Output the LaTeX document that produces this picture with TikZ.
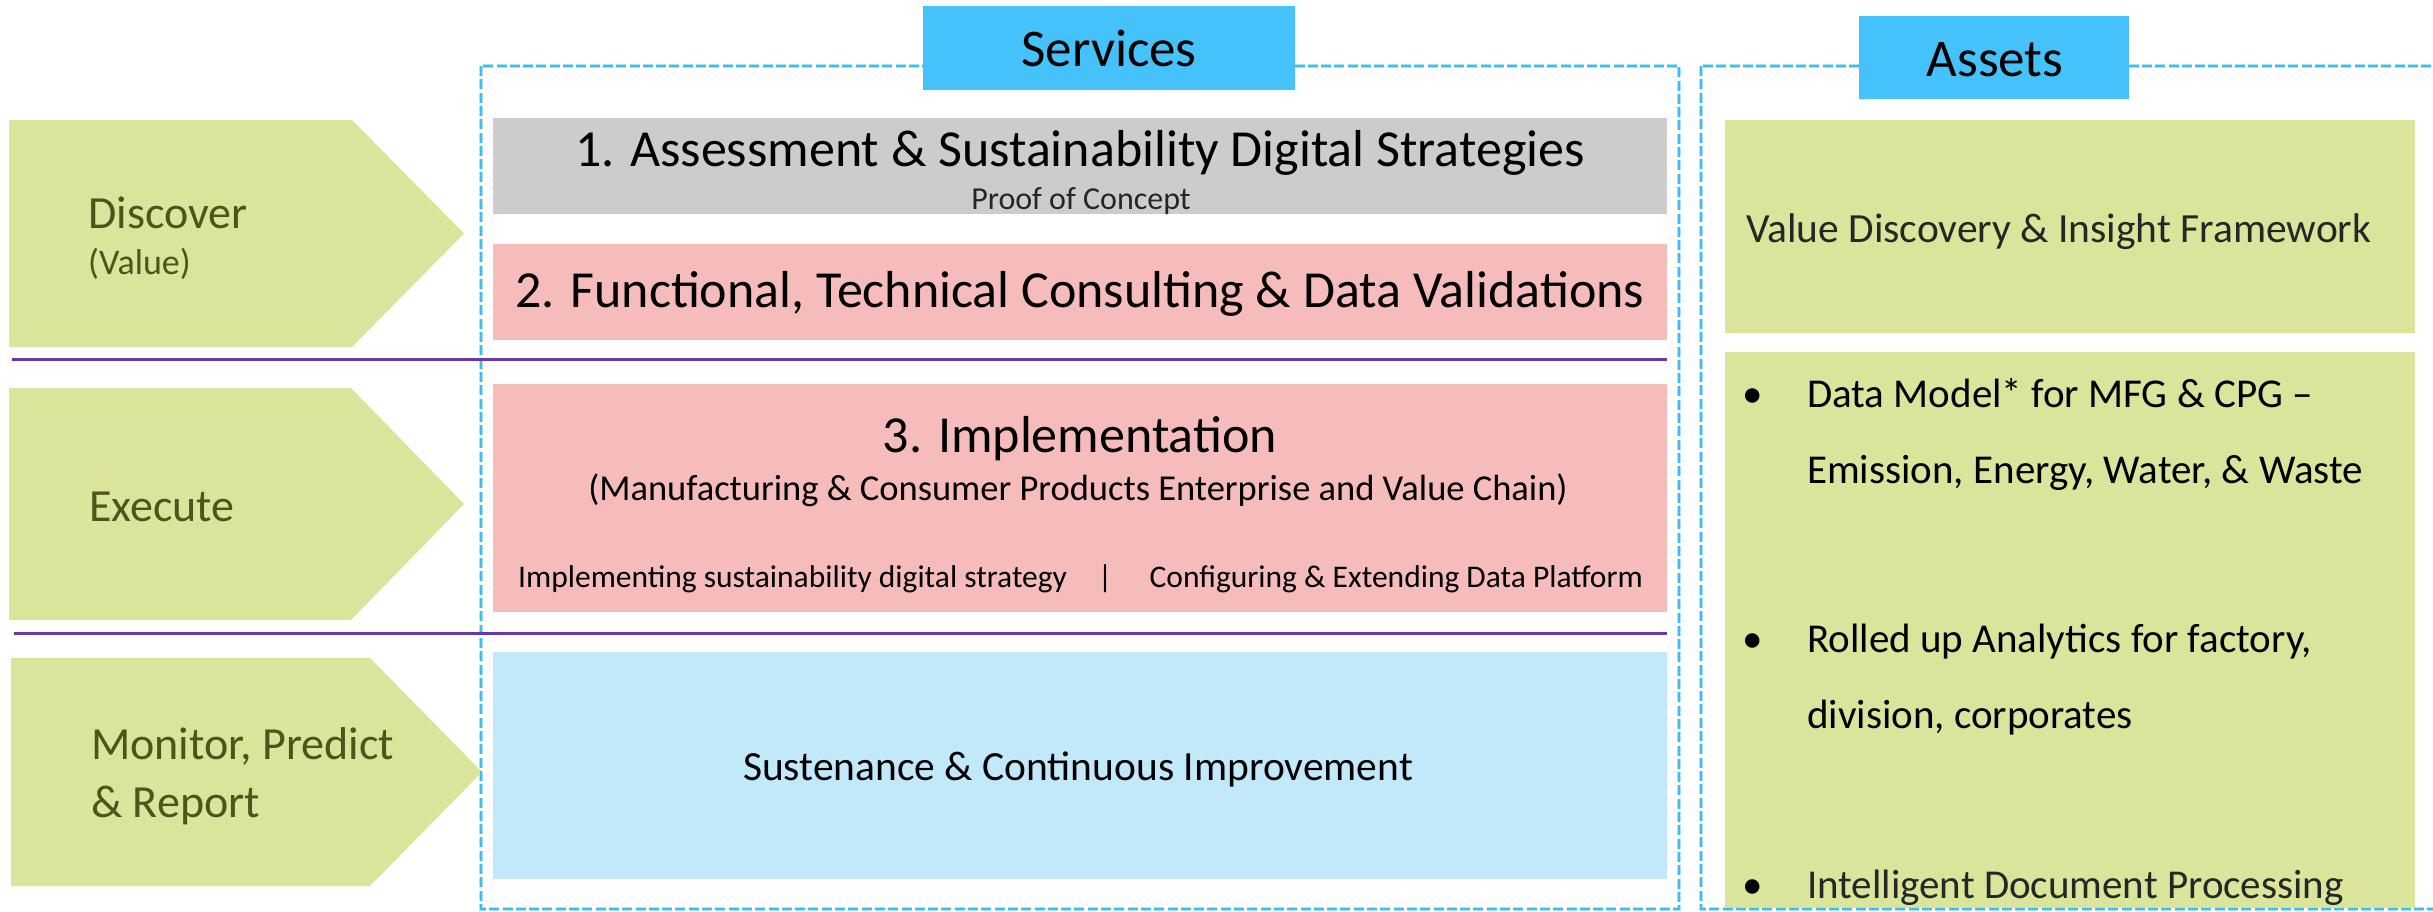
\documentclass[tikz,border=0pt]{standalone}
\usepackage{fontspec}
\setmainfont{Carlito}
\definecolor{hdr}{HTML}{45C2FA}
\definecolor{grayb}{HTML}{CCCCCC}
\definecolor{pinkb}{HTML}{F5BCBB}
\definecolor{blueb}{HTML}{C1E9FA}
\definecolor{greenb}{HTML}{DAE49B}
\definecolor{olive}{HTML}{4A561C}
\definecolor{sepline}{HTML}{6A36AE}
\definecolor{dashout}{HTML}{A9E1FA}
\definecolor{dashin}{HTML}{3DBDF6}
\newcommand\fsz[1]{\fontsize{#1pt}{#1pt}\selectfont}
\begin{document}
\begin{tikzpicture}[x=1pt,y=-1pt,
  txt/.style={inner sep=0pt,anchor=base},
  ltxt/.style={inner sep=0pt,anchor=base west},
  lbl/.style={inner sep=0pt,anchor=base west,text=olive,font=\fsz{46}},
  dashA/.style={draw=dashout,line width=4pt,dash pattern=on 10pt off 3.3pt},
  dashB/.style={draw=dashin,line width=1.6pt,dash pattern=on 10pt off 3.3pt},
  sep/.style={draw=sepline,line width=3pt}]
\useasboundingbox (0,0) rectangle (2433,911);
\clip (0,0) rectangle (2433,911);

% left pentagons
\fill[greenb] (9,120) -- (352,120) -- (464,233.5) -- (352,347) -- (9,347) -- cycle;
\fill[greenb] (9,388) -- (351,388) -- (464,504) -- (351,620) -- (9,620) -- cycle;
\fill[greenb] (11,658) -- (370,658) -- (482,772) -- (370,886) -- (11,886) -- cycle;

% service boxes
\fill[grayb] (493,118) rectangle (1667,214);
\fill[pinkb] (493,244) rectangle (1667,340);
\fill[pinkb] (493,384) rectangle (1667,612);
\fill[blueb] (493,652) rectangle (1667,879);

% asset boxes
\fill[greenb] (1725,120) rectangle (2415,333);
\fill[greenb] (1725,352) rectangle (2415,908);

% dashed frames
\draw[dashA] (481,66) rectangle (1679,909);
\draw[dashB] (481,66) rectangle (1679,909);
\draw[dashA] (1701,66) rectangle (2460,909);
\draw[dashB] (1701,66) rectangle (2460,909);

% separators
\coordinate (s1a) at (12,359);
\coordinate (s1b) at (1667,359);
\coordinate (s2a) at (14,633);
\coordinate (s2b) at (1667,633);
\draw[sep] (s1a) -- (s1b);
\draw[sep] (s2a) -- (s2b);

% header boxes
\fill[hdr] (923,6) rectangle (1295,90);
\fill[hdr] (1859,16) rectangle (2129,99);
\node[txt,font=\fsz{53}] (services) at (1109,66) {Services};
\node[txt,font=\fsz{53}] (assets) at (1995,76) {Assets};

% left labels
\node[lbl] (discover) at (88,228) {Discover};
\node[lbl,font=\fsz{36}] (value) at (88,274) {(Value)};
\node[lbl] (execute) at (89,521) {Execute};
\node[lbl] (monitor) at (91,759) {Monitor, Predict};
\node[lbl] (report) at (91,817) {\& Report};

% service texts
\node[txt,font=\fsz{52}] (t1) at (1080,166) {1. Assessment \& Sustainability Digital Strategies};
\node[txt,font=\fsz{32},text=black!85] (poc) at (1081,209) {Proof of Concept};
\node[txt,font=\fsz{52}] (t2) at (1080,307) {2. Functional, Technical Consulting \& Data Validations};
\node[txt,font=\fsz{52}] (t3) at (1080,452) {3. Implementation};
\node[txt,font=\fsz{36.5}] (t3b) at (1078,500) {(Manufacturing \& Consumer Products Enterprise and Value Chain)};
\node[ltxt,font=\fsz{31.5}] (impl) at (518,587) {Implementing sustainability digital strategy};
\node[txt,font=\fsz{31.5}] (bar) at (1105,587) {|};
\node[inner sep=0pt,anchor=base east,font=\fsz{31.5}] (conf) at (1643,587) {Configuring \& Extending Data Platform};
\node[txt,font=\fsz{41.5}] (sust) at (1078,780) {Sustenance \& Continuous Improvement};

% asset texts
\node[ltxt,font=\fsz{41.5},text=black!85] (vdif) at (1746,242) {Value Discovery \& Insight Framework};
\node[txt,font=\fsz{41}] (b1) at (1753,407) {•};
\node[ltxt,font=\fsz{41}] (a1) at (1807,407) {Data Model* for MFG \& CPG –};
\node[ltxt,font=\fsz{41}] (a1b) at (1807,483) {Emission, Energy, Water, \& Waste};
\node[txt,font=\fsz{41}] (b2) at (1753,652) {•};
\node[ltxt,font=\fsz{41}] (a2) at (1807,652) {Rolled up Analytics for factory,};
\node[ltxt,font=\fsz{41}] (a2b) at (1807,728) {division, corporates};
\node[txt,font=\fsz{41}] (b3) at (1753,898) {•};
\node[ltxt,font=\fsz{41},text=black!85] (a3) at (1807,898) {Intelligent Document Processing};
\end{tikzpicture}
\end{document}
